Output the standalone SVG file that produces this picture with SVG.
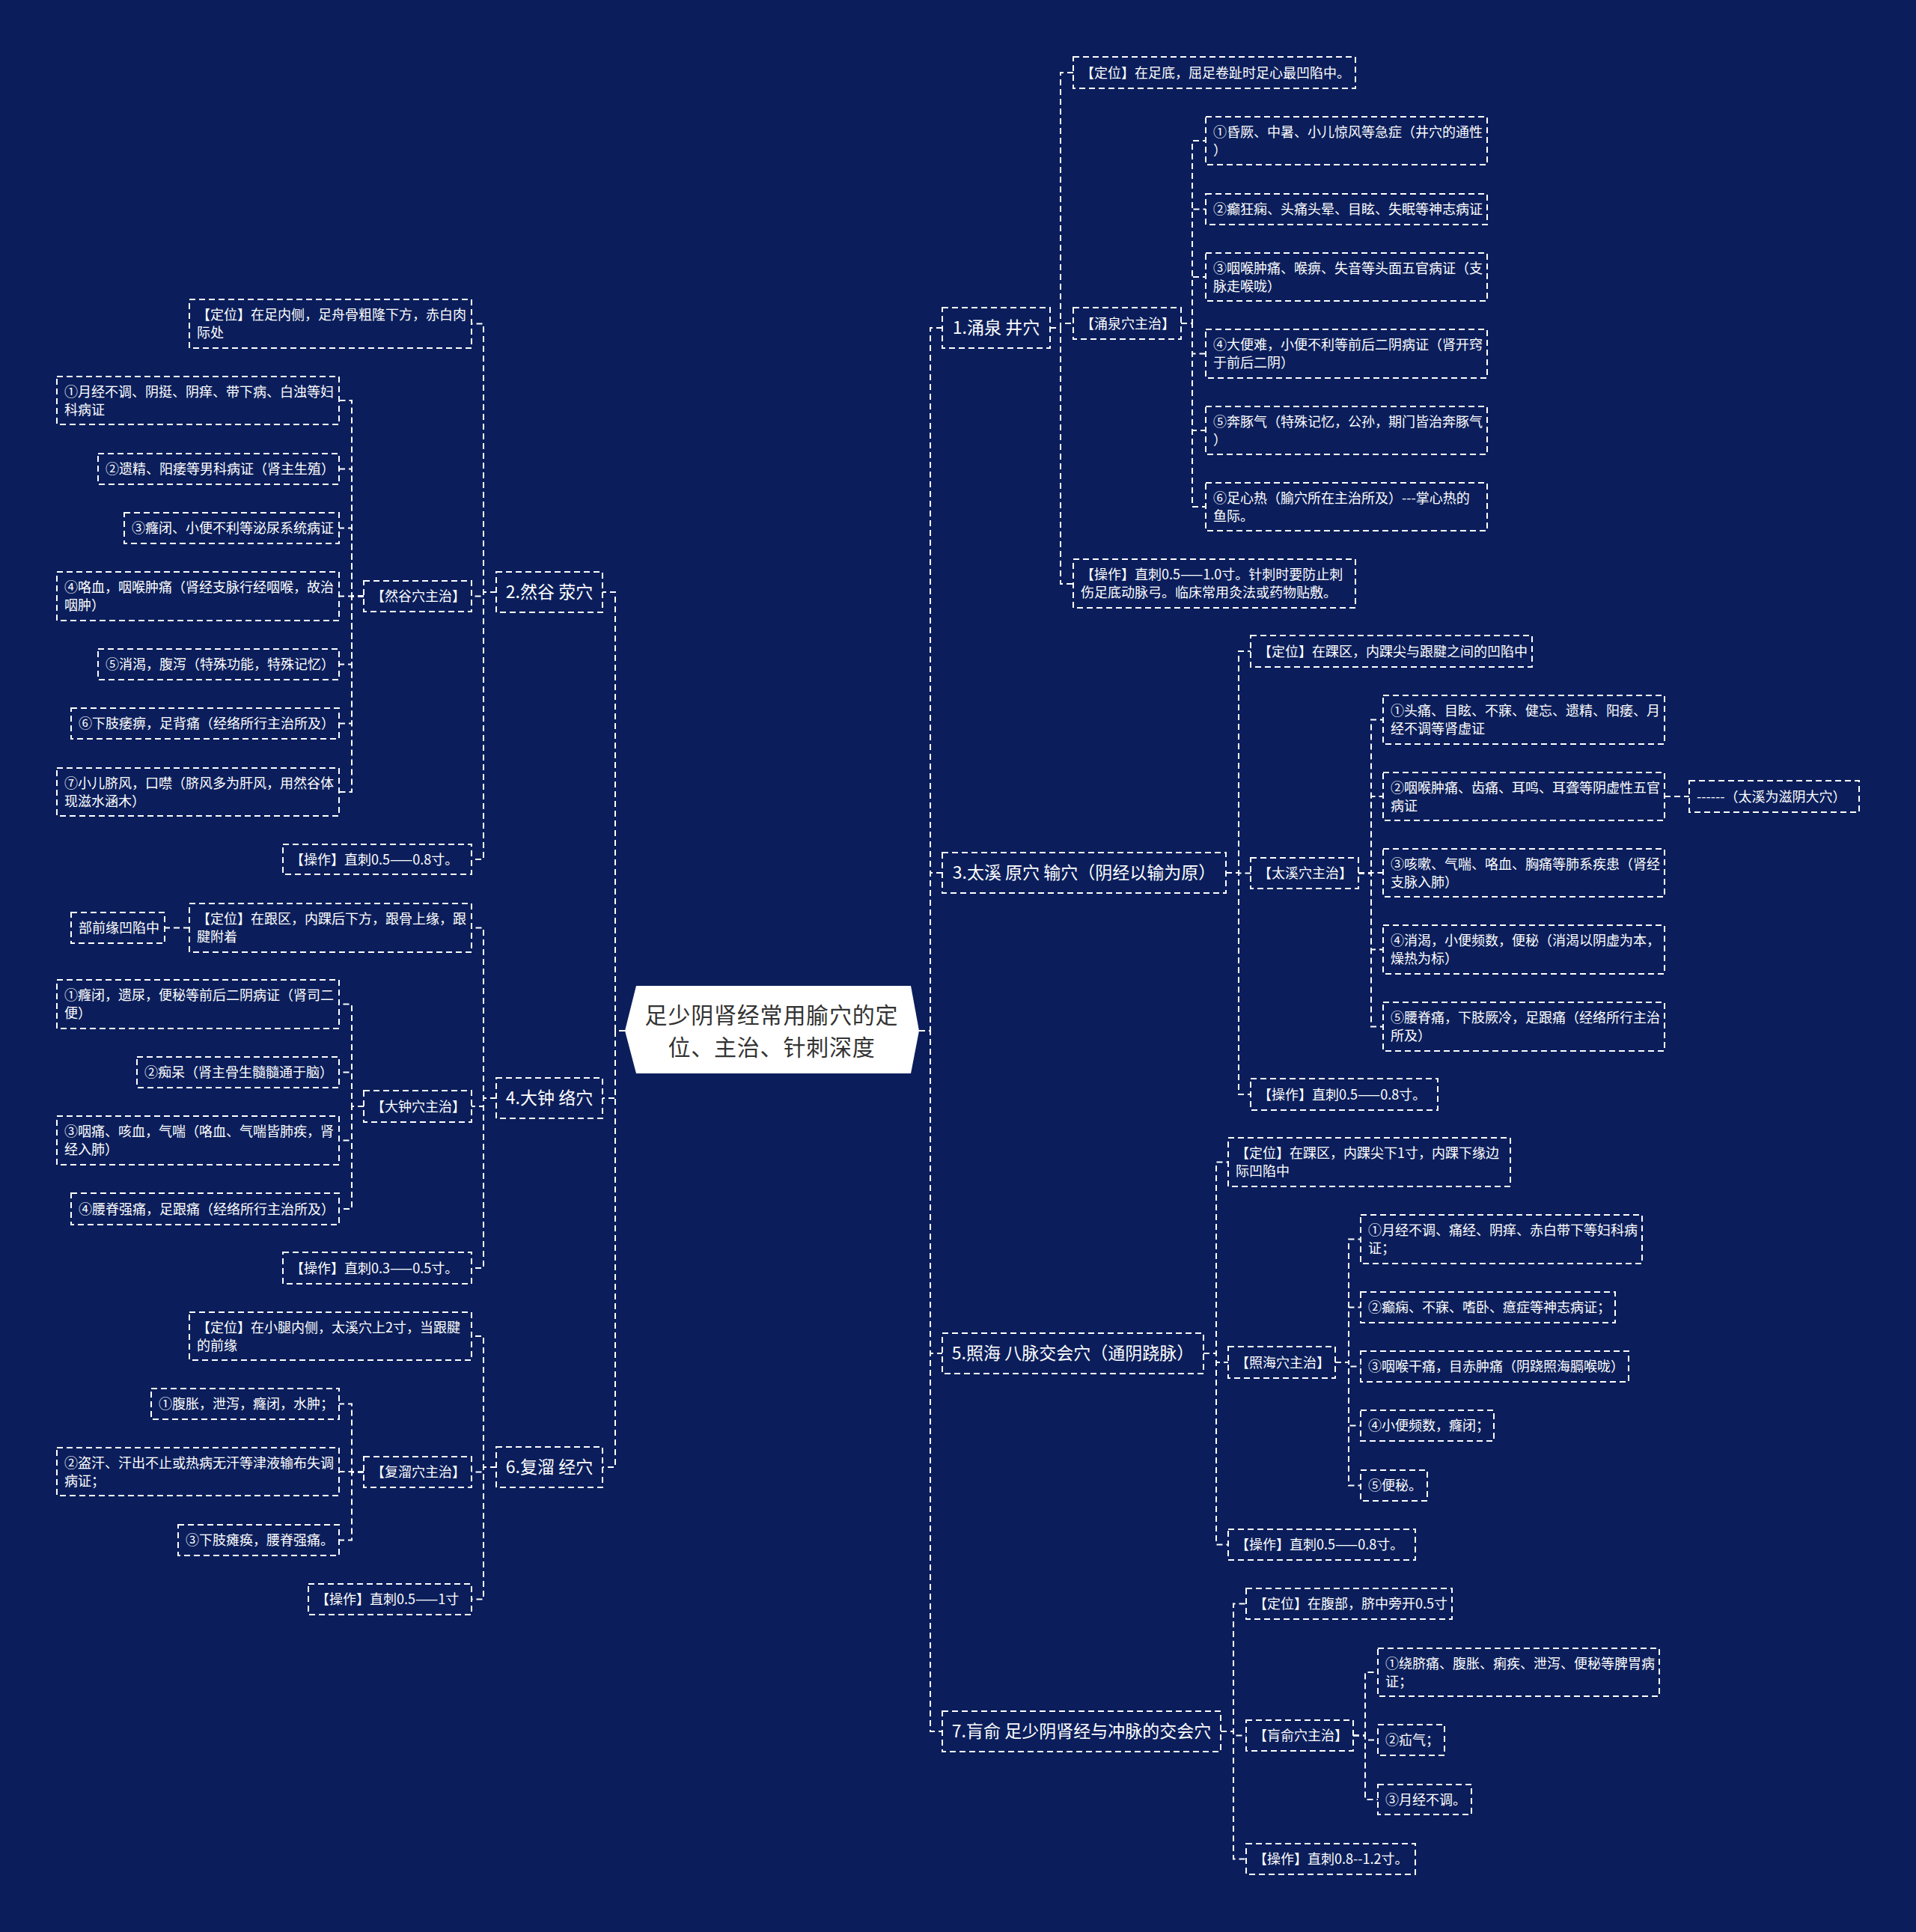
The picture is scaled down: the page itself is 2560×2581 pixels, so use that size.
<svg xmlns="http://www.w3.org/2000/svg" width="2560" height="2581" viewBox="0 0 2560 2581">
<style>
.bg{fill:#0b1e5b}
.box{fill:none;stroke:#fff;stroke-width:2;stroke-dasharray:8 5}
.edge{fill:none;stroke:#fff;stroke-width:2;stroke-dasharray:8 5}
text{font-family:"Noto Sans CJK SC","Microsoft YaHei",sans-serif;fill:#fff;font-size:18px}
.t1{font-size:23px;text-anchor:middle}
.tc{font-size:30px;text-anchor:middle;fill:#333;letter-spacing:0.8px}
</style>
<rect class="bg" x="0" y="0" width="2560" height="2581"/>
<g id="connectors">
<path class="edge" d="M1228,1377H1243V438H1259"/>
<path class="edge" d="M1228,1377H1243V1166H1259"/>
<path class="edge" d="M1228,1377H1243V1808H1259"/>
<path class="edge" d="M1228,1377H1243V2313H1259"/>
<path class="edge" d="M835,1377H822V791H805"/>
<path class="edge" d="M835,1377H822V1467H805"/>
<path class="edge" d="M835,1377H822V1960H805"/>
<path class="edge" d="M1403,438H1417V97H1434"/>
<path class="edge" d="M1403,438H1417V432H1434"/>
<path class="edge" d="M1403,438H1417V780H1434"/>
<path class="edge" d="M1578,432H1593V188H1611"/>
<path class="edge" d="M1578,432H1593V279.5H1611"/>
<path class="edge" d="M1578,432H1593V370H1611"/>
<path class="edge" d="M1578,432H1593V472.5H1611"/>
<path class="edge" d="M1578,432H1593V575H1611"/>
<path class="edge" d="M1578,432H1593V677H1611"/>
<path class="edge" d="M1638,1166H1655V870H1671"/>
<path class="edge" d="M1638,1166H1655V1166.5H1671"/>
<path class="edge" d="M1638,1166H1655V1462H1671"/>
<path class="edge" d="M1815,1166.5H1832V961.5H1848"/>
<path class="edge" d="M1815,1166.5H1832V1064H1848"/>
<path class="edge" d="M1815,1166.5H1832V1166H1848"/>
<path class="edge" d="M1815,1166.5H1832V1268.5H1848"/>
<path class="edge" d="M1815,1166.5H1832V1371.5H1848"/>
<path class="edge" d="M2224,1064H2257"/>
<path class="edge" d="M1608,1808H1625V1552.5H1641"/>
<path class="edge" d="M1608,1808H1625V1820H1641"/>
<path class="edge" d="M1608,1808H1625V2063.5H1641"/>
<path class="edge" d="M1784,1820H1802V1655.5H1818"/>
<path class="edge" d="M1784,1820H1802V1746.5H1818"/>
<path class="edge" d="M1784,1820H1802V1825.5H1818"/>
<path class="edge" d="M1784,1820H1802V1904.5H1818"/>
<path class="edge" d="M1784,1820H1802V1984.5H1818"/>
<path class="edge" d="M1631,2313H1648V2142.5H1665"/>
<path class="edge" d="M1631,2313H1648V2318.5H1665"/>
<path class="edge" d="M1631,2313H1648V2483.5H1665"/>
<path class="edge" d="M1808,2318.5H1824V2234H1841"/>
<path class="edge" d="M1808,2318.5H1824V2324.5H1841"/>
<path class="edge" d="M1808,2318.5H1824V2404H1841"/>
<path class="edge" d="M663,791H646V432.5H630"/>
<path class="edge" d="M663,791H646V796.5H630"/>
<path class="edge" d="M663,791H646V1148H630"/>
<path class="edge" d="M486,796.5H470V535H453"/>
<path class="edge" d="M486,796.5H470V626.5H453"/>
<path class="edge" d="M486,796.5H470V705.5H453"/>
<path class="edge" d="M486,796.5H470V796.5H453"/>
<path class="edge" d="M486,796.5H470V887.5H453"/>
<path class="edge" d="M486,796.5H470V966.5H453"/>
<path class="edge" d="M486,796.5H470V1058H453"/>
<path class="edge" d="M663,1467H646V1239.5H630"/>
<path class="edge" d="M663,1467H646V1478H630"/>
<path class="edge" d="M663,1467H646V1694H630"/>
<path class="edge" d="M253,1239.5H220"/>
<path class="edge" d="M486,1478H470V1341.5H453"/>
<path class="edge" d="M486,1478H470V1432.5H453"/>
<path class="edge" d="M486,1478H470V1523.5H453"/>
<path class="edge" d="M486,1478H470V1615H453"/>
<path class="edge" d="M663,1960H646V1785H630"/>
<path class="edge" d="M663,1960H646V1966.5H630"/>
<path class="edge" d="M663,1960H646V2136.5H630"/>
<path class="edge" d="M486,1966.5H470V1875.5H453"/>
<path class="edge" d="M486,1966.5H470V1966H453"/>
<path class="edge" d="M486,1966.5H470V2057.5H453"/>
</g>
<g id="root">
<polygon points="835,1377 850,1317 1217,1317 1228,1377 1217,1434 850,1434" fill="#fff"/>
<text class="tc" x="1031" y="1366.5">足少阴肾经常用腧穴的定</text>
<text class="tc" x="1031" y="1410">位、主治、针刺深度</text>
</g>
<g id="n1"><rect class="box" x="1259" y="411" width="144" height="54"/><text class="t1" x="1331" y="446">1.涌泉 井穴</text></g>
<g id="n1a"><rect class="box" x="1434" y="76" width="377" height="42"/><text x="1444" y="103.5">【定位】在足底，屈足卷趾时足心最凹陷中。</text></g>
<g id="n1b"><rect class="box" x="1434" y="411" width="144" height="42"/><text x="1444" y="438.5">【涌泉穴主治】</text></g>
<g id="n1b1"><rect class="box" x="1611" y="156" width="376" height="64"/><text x="1621" y="182.5">①昏厥、中暑、小儿惊风等急症（井穴的通性</text><text x="1621" y="206.5">）</text></g>
<g id="n1b2"><rect class="box" x="1611" y="259" width="376" height="41"/><text x="1621" y="286">②癫狂痫、头痛头晕、目眩、失眠等神志病证</text></g>
<g id="n1b3"><rect class="box" x="1611" y="338" width="376" height="64"/><text x="1621" y="364.5">③咽喉肿痛、喉痹、失音等头面五官病证（支</text><text x="1621" y="388.5">脉走喉咙）</text></g>
<g id="n1b4"><rect class="box" x="1611" y="440" width="376" height="65"/><text x="1621" y="467">④大便难，小便不利等前后二阴病证（肾开窍</text><text x="1621" y="491">于前后二阴）</text></g>
<g id="n1b5"><rect class="box" x="1611" y="543" width="376" height="64"/><text x="1621" y="569.5">⑤奔豚气（特殊记忆，公孙，期门皆治奔豚气</text><text x="1621" y="593.5">）</text></g>
<g id="n1b6"><rect class="box" x="1611" y="645" width="376" height="64"/><text x="1621" y="671.5">⑥足心热（腧穴所在主治所及）---掌心热的</text><text x="1621" y="695.5">鱼际。</text></g>
<g id="n1c"><rect class="box" x="1434" y="747" width="377" height="65"/><text x="1444" y="774">【操作】直刺0.5——1.0寸。针刺时要防止刺</text><text x="1444" y="798">伤足底动脉弓。临床常用灸法或药物贴敷。</text></g>
<g id="n3"><rect class="box" x="1259" y="1139" width="379" height="54"/><text class="t1" x="1448.5" y="1174">3.太溪 原穴 输穴（阴经以输为原）</text></g>
<g id="n3a"><rect class="box" x="1671" y="849" width="376" height="42"/><text x="1681" y="876.5">【定位】在踝区，内踝尖与跟腱之间的凹陷中</text></g>
<g id="n3b"><rect class="box" x="1671" y="1146" width="144" height="41"/><text x="1681" y="1173">【太溪穴主治】</text></g>
<g id="n3b1"><rect class="box" x="1848" y="929" width="376" height="65"/><text x="1858" y="956">①头痛、目眩、不寐、健忘、遗精、阳痿、月</text><text x="1858" y="980">经不调等肾虚证</text></g>
<g id="n3b2"><rect class="box" x="1848" y="1032" width="376" height="64"/><text x="1858" y="1058.5">②咽喉肿痛、齿痛、耳鸣、耳聋等阴虚性五官</text><text x="1858" y="1082.5">病证</text></g>
<g id="n3b2a"><rect class="box" x="2257" y="1043" width="227" height="42"/><text x="2267" y="1070.5">------（太溪为滋阴大穴）</text></g>
<g id="n3b3"><rect class="box" x="1848" y="1134" width="376" height="64"/><text x="1858" y="1160.5">③咳嗽、气喘、咯血、胸痛等肺系疾患（肾经</text><text x="1858" y="1184.5">支脉入肺）</text></g>
<g id="n3b4"><rect class="box" x="1848" y="1236" width="376" height="65"/><text x="1858" y="1263">④消渴，小便频数，便秘（消渴以阴虚为本，</text><text x="1858" y="1287">燥热为标）</text></g>
<g id="n3b5"><rect class="box" x="1848" y="1339" width="376" height="65"/><text x="1858" y="1366">⑤腰脊痛，下肢厥冷，足跟痛（经络所行主治</text><text x="1858" y="1390">所及）</text></g>
<g id="n3c"><rect class="box" x="1671" y="1441" width="250" height="42"/><text x="1681" y="1468.5">【操作】直刺0.5——0.8寸。</text></g>
<g id="n5"><rect class="box" x="1259" y="1781" width="349" height="54"/><text class="t1" x="1433.5" y="1816">5.照海 八脉交会穴（通阴跷脉）</text></g>
<g id="n5a"><rect class="box" x="1641" y="1520" width="377" height="65"/><text x="1651" y="1547">【定位】在踝区，内踝尖下1寸，内踝下缘边</text><text x="1651" y="1571">际凹陷中</text></g>
<g id="n5b"><rect class="box" x="1641" y="1799" width="143" height="42"/><text x="1651" y="1826.5">【照海穴主治】</text></g>
<g id="n5b1"><rect class="box" x="1818" y="1623" width="376" height="65"/><text x="1828" y="1650">①月经不调、痛经、阴痒、赤白带下等妇科病</text><text x="1828" y="1674">证；</text></g>
<g id="n5b2"><rect class="box" x="1818" y="1726" width="340" height="41"/><text x="1828" y="1753">②癫痫、不寐、嗜卧、癔症等神志病证；</text></g>
<g id="n5b3"><rect class="box" x="1818" y="1805" width="358" height="41"/><text x="1828" y="1832">③咽喉干痛，目赤肿痛（阴跷照海膈喉咙）</text></g>
<g id="n5b4"><rect class="box" x="1818" y="1884" width="178" height="41"/><text x="1828" y="1911">④小便频数，癃闭；</text></g>
<g id="n5b5"><rect class="box" x="1818" y="1964" width="89" height="41"/><text x="1828" y="1991">⑤便秘。</text></g>
<g id="n5c"><rect class="box" x="1641" y="2043" width="250" height="41"/><text x="1651" y="2070">【操作】直刺0.5——0.8寸。</text></g>
<g id="n7"><rect class="box" x="1259" y="2286" width="372" height="54"/><text class="t1" x="1445" y="2321">7.肓俞 足少阴肾经与冲脉的交会穴</text></g>
<g id="n7a"><rect class="box" x="1665" y="2122" width="275" height="41"/><text x="1675" y="2149">【定位】在腹部，脐中旁开0.5寸</text></g>
<g id="n7b"><rect class="box" x="1665" y="2298" width="143" height="41"/><text x="1675" y="2325">【肓俞穴主治】</text></g>
<g id="n7b1"><rect class="box" x="1841" y="2202" width="376" height="64"/><text x="1851" y="2228.5">①绕脐痛、腹胀、痢疾、泄泻、便秘等脾胃病</text><text x="1851" y="2252.5">证；</text></g>
<g id="n7b2"><rect class="box" x="1841" y="2304" width="89" height="41"/><text x="1851" y="2331">②疝气；</text></g>
<g id="n7b3"><rect class="box" x="1841" y="2384" width="125" height="40"/><text x="1851" y="2410.5">③月经不调。</text></g>
<g id="n7c"><rect class="box" x="1665" y="2463" width="226" height="41"/><text x="1675" y="2490">【操作】直刺0.8--1.2寸。</text></g>
<g id="n2"><rect class="box" x="663" y="764" width="142" height="54"/><text class="t1" x="734" y="799">2.然谷 荥穴</text></g>
<g id="n2a"><rect class="box" x="253" y="400" width="377" height="65"/><text x="263" y="427">【定位】在足内侧，足舟骨粗隆下方，赤白肉</text><text x="263" y="451">际处</text></g>
<g id="n2b"><rect class="box" x="486" y="776" width="144" height="41"/><text x="496" y="803">【然谷穴主治】</text></g>
<g id="n2b1"><rect class="box" x="76" y="503" width="377" height="64"/><text x="86" y="529.5">①月经不调、阴挺、阴痒、带下病、白浊等妇</text><text x="86" y="553.5">科病证</text></g>
<g id="n2b2"><rect class="box" x="131" y="606" width="322" height="41"/><text x="141" y="633">②遗精、阳痿等男科病证（肾主生殖）</text></g>
<g id="n2b3"><rect class="box" x="166" y="685" width="287" height="41"/><text x="176" y="712">③癃闭、小便不利等泌尿系统病证</text></g>
<g id="n2b4"><rect class="box" x="76" y="764" width="377" height="65"/><text x="86" y="791">④咯血，咽喉肿痛（肾经支脉行经咽喉，故治</text><text x="86" y="815">咽肿）</text></g>
<g id="n2b5"><rect class="box" x="131" y="867" width="322" height="41"/><text x="141" y="894">⑤消渴，腹泻（特殊功能，特殊记忆）</text></g>
<g id="n2b6"><rect class="box" x="95" y="946" width="358" height="41"/><text x="105" y="973">⑥下肢痿痹，足背痛（经络所行主治所及）</text></g>
<g id="n2b7"><rect class="box" x="76" y="1026" width="377" height="64"/><text x="86" y="1052.5">⑦小儿脐风，口噤（脐风多为肝风，用然谷体</text><text x="86" y="1076.5">现滋水涵木）</text></g>
<g id="n2c"><rect class="box" x="378" y="1128" width="252" height="40"/><text x="388" y="1154.5">【操作】直刺0.5——0.8寸。</text></g>
<g id="n4"><rect class="box" x="663" y="1440" width="142" height="54"/><text class="t1" x="734" y="1475">4.大钟 络穴</text></g>
<g id="n4a"><rect class="box" x="253" y="1207" width="377" height="65"/><text x="263" y="1234">【定位】在跟区，内踝后下方，跟骨上缘，跟</text><text x="263" y="1258">腱附着</text></g>
<g id="n4a1"><rect class="box" x="95" y="1219" width="125" height="41"/><text x="105" y="1246">部前缘凹陷中</text></g>
<g id="n4b"><rect class="box" x="486" y="1457" width="144" height="42"/><text x="496" y="1484.5">【大钟穴主治】</text></g>
<g id="n4b1"><rect class="box" x="76" y="1309" width="377" height="65"/><text x="86" y="1336">①癃闭，遗尿，便秘等前后二阴病证（肾司二</text><text x="86" y="1360">便）</text></g>
<g id="n4b2"><rect class="box" x="183" y="1412" width="270" height="41"/><text x="193" y="1439">②痴呆（肾主骨生髓髓通于脑）</text></g>
<g id="n4b3"><rect class="box" x="76" y="1491" width="377" height="65"/><text x="86" y="1518">③咽痛、咳血，气喘（咯血、气喘皆肺疾，肾</text><text x="86" y="1542">经入肺）</text></g>
<g id="n4b4"><rect class="box" x="95" y="1594" width="358" height="42"/><text x="105" y="1621.5">④腰脊强痛，足跟痛（经络所行主治所及）</text></g>
<g id="n4c"><rect class="box" x="378" y="1673" width="252" height="42"/><text x="388" y="1700.5">【操作】直刺0.3——0.5寸。</text></g>
<g id="n6"><rect class="box" x="663" y="1933" width="142" height="54"/><text class="t1" x="734" y="1968">6.复溜 经穴</text></g>
<g id="n6a"><rect class="box" x="253" y="1753" width="377" height="64"/><text x="263" y="1779.5">【定位】在小腿内侧，太溪穴上2寸，当跟腱</text><text x="263" y="1803.5">的前缘</text></g>
<g id="n6b"><rect class="box" x="486" y="1946" width="144" height="41"/><text x="496" y="1973">【复溜穴主治】</text></g>
<g id="n6b1"><rect class="box" x="202" y="1855" width="251" height="41"/><text x="212" y="1882">①腹胀，泄泻，癃闭，水肿；</text></g>
<g id="n6b2"><rect class="box" x="76" y="1934" width="377" height="64"/><text x="86" y="1960.5">②盗汗、汗出不止或热病无汗等津液输布失调</text><text x="86" y="1984.5">病证；</text></g>
<g id="n6b3"><rect class="box" x="238" y="2037" width="215" height="41"/><text x="248" y="2064">③下肢瘫痪，腰脊强痛。</text></g>
<g id="n6c"><rect class="box" x="412" y="2116" width="218" height="41"/><text x="422" y="2143">【操作】直刺0.5——1寸</text></g>
</svg>
